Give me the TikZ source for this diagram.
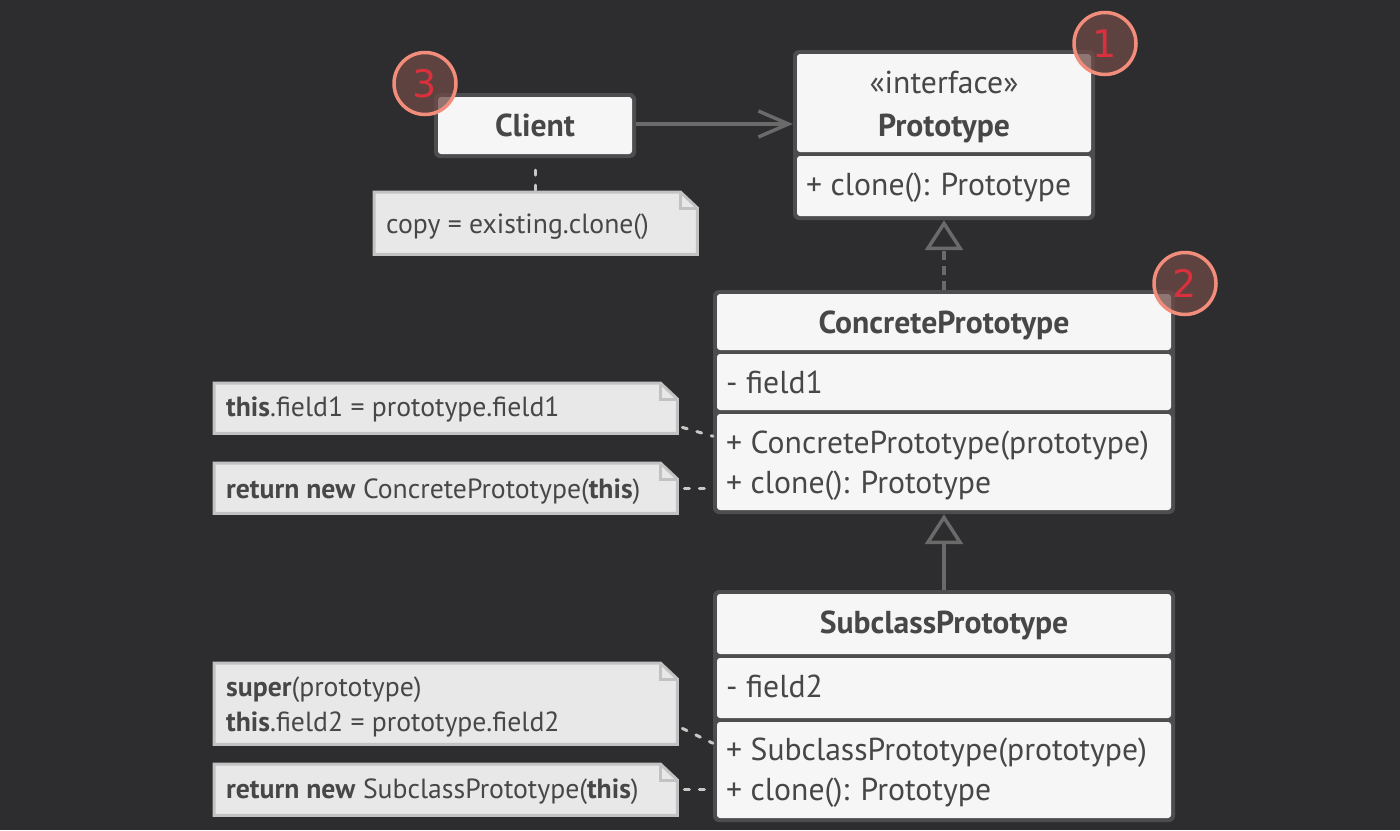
\documentclass[tikz,border=0pt]{standalone}
\usepackage{fontspec}
\setmainfont{PT Sans}
\newfontfamily\numfont{DejaVu Sans}
\usetikzlibrary{arrows.meta,calc}
\definecolor{bg}{HTML}{2D2D2F}
\definecolor{boxborder}{HTML}{4D4D4F}
\definecolor{boxfill}{HTML}{F6F6F6}
\definecolor{txt}{HTML}{474747}
\definecolor{linegray}{HTML}{6A6A6A}
\definecolor{notefill}{HTML}{E8E8E8}
\definecolor{noteborder}{HTML}{C2C2C2}
\definecolor{dotgray}{HTML}{C8C8C8}
\definecolor{badgestroke}{HTML}{F38D7B}
\definecolor{badgefill}{HTML}{6E4A47}
\definecolor{badgetext}{HTML}{D8313D}
\tikzset{
  frame/.style={fill=boxborder, rounded corners=6pt, inner sep=0pt, draw=none},
  comp/.style={fill=boxfill, rounded corners=3pt},
  titletext/.style={font=\bfseries\fontsize{31.7pt}{36pt}\selectfont, text=txt, anchor=base, inner sep=0pt},
  plaintext/.style={font=\fontsize{31.7pt}{36pt}\selectfont, text=txt, anchor=base, inner sep=0pt},
  membertext/.style={font=\fontsize{31.7pt}{36pt}\selectfont, text=txt, anchor=base west, inner sep=0pt},
  notebox/.style={draw=none, inner sep=0pt, anchor=north west},
  notedraw/.style={fill=notefill, draw=noteborder, line width=3pt, line join=miter},
  notetext/.style={font=\fontsize{27.7pt}{34pt}\selectfont, text=txt, anchor=base west, inner sep=0pt},
  assoc/.style={draw=linegray, line width=3.5pt, -{Straight Barb[length=30pt, width=26pt, line width=3.5pt]}},
  realize/.style={draw=linegray, line width=3.5pt, dash pattern=on 9pt off 6pt, -{Triangle[open, length=30pt, width=38pt, line width=3.5pt, fill=bg]}},
  inherit/.style={draw=linegray, line width=3.5pt, -{Triangle[open, length=30pt, width=38pt, line width=3.5pt, fill=bg]}},
  dotline/.style={draw=dotgray, line width=3pt, line cap=round, dash pattern=on 5pt off 10pt},
  badge/.style={circle, draw=badgestroke, line width=3.5pt, fill=badgefill, fill opacity=0.75, text opacity=1, text=badgetext, minimum size=62pt, inner sep=0pt, font=\numfont\fontsize{38pt}{42pt}\selectfont}
}
\newcommand{\notepoly}[1]{%
  \draw[notedraw] (#1.north west) -- ([xshift=-17pt]#1.north east) -- ([yshift=-16pt]#1.north east) -- (#1.south east) -- (#1.south west) -- cycle;
  \draw[draw=noteborder, line width=3pt] ([xshift=-17pt]#1.north east) -- ([xshift=-17pt,yshift=-16pt]#1.north east) -- ([yshift=-16pt]#1.north east);
}
\begin{document}
\begin{tikzpicture}[x=1pt,y=-1pt]
\useasboundingbox (0,0) rectangle (1400,830);
\fill[bg] (0,0) rectangle (1400,830);

% ---------- Client ----------
\node[frame, minimum width=202pt, minimum height=65pt] (client) at (535,125.5) {};
\path[comp] (438,97) rectangle (632,154);
\node[titletext] (clientname) at (535,136) {Client};

% ---------- Prototype ----------
\node[frame, minimum width=302pt, minimum height=170pt] (proto) at (944,135) {};
\path[comp] (797,54) rectangle (1091,152);
\path[comp] (797,156) rectangle (1091,216);
\node[plaintext] (protost) at (944,93) {«interface»};
\node[titletext] (protoname) at (944,136) {Prototype};
\node[membertext] (protom1) at (806,195) {+ clone(): Prototype};

% ---------- ConcretePrototype ----------
\node[frame, minimum width=462pt, minimum height=224pt] (concrete) at (944,402) {};
\path[comp] (717,294) rectangle (1171,350);
\path[comp] (717,354) rectangle (1171,410);
\path[comp] (717,414) rectangle (1171,510);
\node[titletext] (concname) at (944,333) {ConcretePrototype};
\node[membertext] (concf1) at (726,393) {- field1};
\node[membertext] (concm1) at (726,453) {+ ConcretePrototype(prototype)};
\node[membertext] (concm2) at (726,493) {+ clone(): Prototype};

% ---------- SubclassPrototype ----------
\node[frame, minimum width=462pt, minimum height=232pt] (sub) at (944,706) {};
\path[comp] (717,594) rectangle (1171,654);
\path[comp] (717,658) rectangle (1171,718);
\path[comp] (717,722) rectangle (1171,818);
\node[titletext] (subname) at (944,633) {SubclassPrototype};
\node[membertext] (subf1) at (726,697) {- field2};
\node[membertext] (subm1) at (726,760) {+ SubclassPrototype(prototype)};
\node[membertext] (subm2) at (726,800) {+ clone(): Prototype};

% ---------- Notes ----------
\node[notebox, minimum width=323pt, minimum height=62pt] (n1) at (374,192) {};
\notepoly{n1}
\node[notetext] (n1t) at (386,233) {copy = existing.clone()};

\node[notebox, minimum width=463pt, minimum height=50pt] (n2) at (214,383) {};
\notepoly{n2}
\node[notetext] (n2t) at (226,416) {\textbf{this}.field1 = prototype.field1};

\node[notebox, minimum width=463pt, minimum height=50pt] (n3) at (214,463) {};
\notepoly{n3}
\node[notetext] (n3t) at (226,498) {\textbf{return new} ConcretePrototype(\textbf{this})};

\node[notebox, minimum width=463pt, minimum height=81pt] (n4) at (214,663) {};
\notepoly{n4}
\node[notetext] (n4t) at (226,696) {\textbf{super}(prototype)};
\node[notetext] (n4u) at (226,731) {\textbf{this}.field2 = prototype.field2};

\node[notebox, minimum width=463pt, minimum height=51pt] (n5) at (214,764) {};
\notepoly{n5}
\node[notetext] (n5t) at (226,798) {\textbf{return new} SubclassPrototype(\textbf{this})};

% ---------- Connectors ----------
\draw[assoc] (client.east |- 0,124) -- (proto.west |- 0,124);
\draw[realize] (concrete.north) -- (proto.south);
\draw[inherit] (sub.north) -- (concrete.south);

\draw[dotline] ([yshift=-12pt]client.south) -- (client.south |- n1.north);
\draw[dotline] ([xshift=5pt,yshift=6pt]n2.south east) -- ([yshift=9pt]concm1.west -| concrete.west);
\draw[dotline] ([xshift=7pt]n3.east) -- (n3.east -| concrete.west);
\draw[dotline] ([xshift=5pt,yshift=16pt]n4.south east) -- ([yshift=9pt]subm1.west -| sub.west);
\draw[dotline] ([xshift=7pt]n5.east) -- (n5.east -| sub.west);

% ---------- Badges ----------
\node[badge] (b1) at (1105,43.5) {1};
\node[badge] (b2) at (1185,283.5) {2};
\node[badge] (b3) at (425,83.5) {3};
\end{tikzpicture}
\end{document}
